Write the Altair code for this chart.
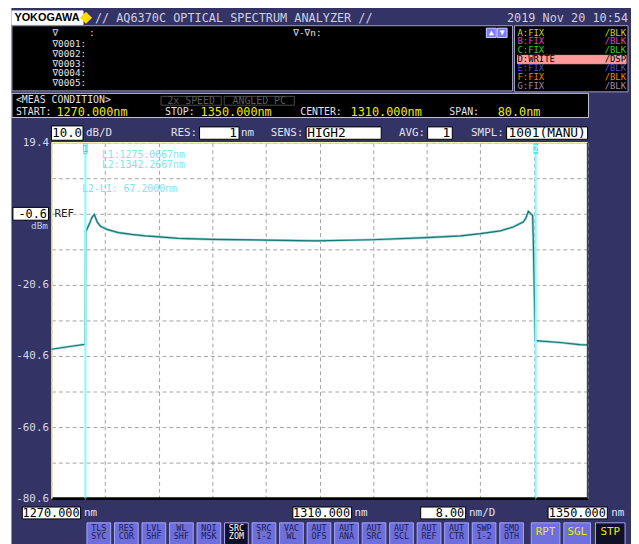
import altair as alt
import pandas as pd

wavelength_nm = [1270.0, 1272.5, 1275.05, 1275.1, 1275.65, 1276.05, 1276.4, 1276.82, 1277.32,
                 1278.3, 1280.0, 1281.98, 1283.95, 1286.16, 1288.86, 1294.0, 1302.1, 1309.5,
                 1317.8, 1325.9, 1331.1, 1334.0, 1337.0, 1338.9, 1340.4, 1340.8, 1341.16,
                 1341.8, 1341.9, 1342.2, 1345.9, 1348.8, 1350.0]
power_dbm = [-38.7, -38.0, -37.3, -5.7, -3.5, -1.6, -0.8, -2.9, -4.1,
             -5.0, -5.9, -6.4, -6.8, -7.1, -7.5, -7.8, -8.0, -8.2,
             -7.9, -7.3, -6.8, -6.2, -5.4, -4.3, -2.9, -1.8, 0.1,
             -1.1, -7.5, -36.3, -36.8, -37.4, -37.5]

marker_nm = [1275.0667, 1342.2667]
marker_label = ["1", "2"]

x_grid_nm = [1270, 1278, 1286, 1294, 1302, 1310, 1318, 1326, 1334, 1342, 1350]
y_grid_dbm = [19.4, 9.4, -0.6, -10.6, -20.6, -30.6, -40.6, -50.6, -60.6, -70.6, -80.6]
y_tick_labels = ["19.4", "-20.6", "-40.6", "-60.6", "-80.6"]

soft_keys = [("TLS", "SYC"), ("RES", "COR"), ("LVL", "SHF"), ("WL", "SHF"), ("NOI", "MSK"),
             ("SRC", "ZOM"), ("SRC", "1-2"), ("VAC", "WL"), ("AUT", "OFS"), ("AUT", "ANA"),
             ("AUT", "SRC"), ("AUT", "SCL"), ("AUT", "REF"), ("AUT", "CTR"), ("SWP", "1-2"),
             ("SMO", "OTH")]
run_keys = ["RPT", "SGL", "STP"]

# ---------------- layout / styles ----------------
W, H = 543, 360
PAD = {"left": 44, "top": 133, "right": 44, "bottom": 43}
OX = 8 + PAD["left"]   # page x of plot origin
OY = 8 + PAD["top"]    # page y of plot origin

NAVY = "#333366"
GRID = "#a4a4a4"
WHT = "#e2e2ea"
HDR = "#d0d0e0"
YEL = "#ecec00"
CY = "#7ee6f0"
KEY = "#6e6edc"
KEYTXT = "#1c1c50"

rects = [
    (0, 11, 0, 560, "#ffffff", "#ffffff"),
    (12, 84, 7.5, 21.5, "#ffffff", "#ffffff"),
    (12, 519, 22.5, 88.5, "#000000", "#a0a0c0"),
    (521, 636, 22.5, 89.5, "#000000", "#a0a0c0"),
    (524, 634, 52.5, 61, "#ff9a9a", "#ff9a9a"),
    (492.5, 502.5, 25, 34.5, "#7b7bff", "#d0d0ff"),
    (503.5, 513.5, 25, 34.5, "#7b7bff", "#d0d0ff"),
    (12, 596, 91, 115.5, "#000000", "#c8c8d8"),
    (163, 224, 94, 103, "#000000", "#4a4a4a"),
    (227, 298, 94, 103, "#000000", "#4a4a4a"),
    (52, 84, 124, 138.5, "#ffffff", "#000000"),
    (202, 242, 125, 137.5, "#ffffff", "#000000"),
    (310, 386, 125, 137.5, "#ffffff", "#000000"),
    (433, 458, 125, 137.5, "#ffffff", "#000000"),
    (513, 595, 125, 137.5, "#ffffff", "#000000"),
    (13, 49, 206.5, 219.5, "#ffffff", "#000000"),
    (22.5, 81.5, 510, 522, "#ffffff", "#000000"),
    (296.5, 356, 510, 522, "#ffffff", "#000000"),
    (426, 471.5, 510, 522, "#ffffff", "#000000"),
    (555, 615, 510, 522, "#ffffff", "#000000"),
]
key_center = []
for i, _ in enumerate(soft_keys):
    left = 88 + 27.87 * i
    fill = "#101028" if i == 5 else KEY
    rects.append((left, left + 24, 526, 550, fill, "#a8a8ff"))
    key_center.append(left + 12)
run_box = [(538, 567), (571, 598), (603, 633)]
for i, (a, b) in enumerate(run_box):
    rects.append((a, b, 526, 550, "#101028" if i == 2 else KEY, "#a8a8ff"))

rect_df = pd.DataFrame(rects, columns=["x1", "x2", "y1", "y2", "fill", "stroke"])
for c in ["x1", "x2"]:
    rect_df[c] = rect_df[c] - OX
for c in ["y1", "y2"]:
    rect_df[c] = rect_df[c] - OY

MS = 9.5   # marker list font size
TS = 9     # trace list font size
left_mono = [
    ("// AQ6370C OPTICAL SPECTRUM ANALYZER //", 96, 15, HDR, 12),
    ("∇", 53, 30, WHT, MS), (":", 90, 30, WHT, MS),
    ("∇0001:", 53, 41.5, WHT, MS), ("∇0002:", 53, 51.3, WHT, MS),
    ("∇0003:", 53, 61.1, WHT, MS), ("∇0004:", 53, 70.9, WHT, MS),
    ("∇0005:", 53, 80.7, WHT, MS),
    ("∇-∇n:", 297, 30, WHT, MS),
    ("A:FIX", 524, 29.5, "#d8d800", TS), ("B:FIX", 524, 38.5, "#e040d0", TS),
    ("C:FIX", 524, 47.5, "#30d030", TS), ("D:WRITE", 524, 56.6, "#000000", TS),
    ("E:FIX", 524, 65.6, "#5050d8", TS), ("F:FIX", 524, 74.6, "#e88800", TS),
    ("G:FIX", 524, 83.6, "#a08aa0", TS),
    ("<MEAS CONDITION>", 16, 98, WHT, 10),
    ("START:", 16, 110.3, WHT, 10), ("1270.000nm", 57, 110, YEL, 12),
    ("STOP:", 167, 110.3, WHT, 10), ("1350.000nm", 203, 110, YEL, 12),
    ("CENTER:", 304, 110.3, WHT, 10), ("1310.000nm", 355, 110, YEL, 12),
    ("SPAN:", 455, 110.3, WHT, 10), ("80.0nm", 504, 110, YEL, 12),
    ("dB/D", 87, 131.5, WHT, 11), ("RES:", 173, 131.5, WHT, 11), ("nm", 244, 131.5, WHT, 11),
    ("SENS:", 274, 131.5, WHT, 11), ("HIGH2", 311, 131, "#000000", 13),
    ("AVG:", 404, 131.5, WHT, 11), ("SMPL:", 477, 131.5, WHT, 11),
    ("1001(MANU)", 515, 131, "#000000", 13),
    ("L1:1275.0667nm", 103, 153.3, CY, 10), ("L2:1342.2667nm", 103, 163.5, CY, 10),
    ("L2-L1:  67.2000nm", 83, 188.3, CY, 10),
    ("REF", 55, 213, "#202020", 11),
    ("nm", 85, 516, WHT, 11), ("nm", 359, 516, WHT, 11), ("nm/D", 475, 516, WHT, 11),
    ("nm", 619, 516, WHT, 11),
]
right_mono = [
    ("2019 Nov 20 10:54", 636, 15, HDR, 12),
    ("/BLK", 634, 29.5, "#d8d800", TS), ("/BLK", 634, 38.5, "#e040d0", TS),
    ("/BLK", 634, 47.5, "#30d030", TS), ("/DSP", 634, 56.6, "#000000", TS),
    ("/BLK", 634, 65.6, "#5050d8", TS), ("/BLK", 634, 74.6, "#e88800", TS),
    ("/BLK", 634, 83.6, "#a08aa0", TS),
    ("10.0", 83, 131.5, "#000000", 12.5),
    ("1", 240, 131, "#000000", 13), ("1", 456, 131, "#000000", 13),
    ("-0.6", 47.5, 213, "#000000", 12),
    ("dBm", 48.5, 225, "#c8c8d8", 9.5),
    ("1270.000", 80.5, 516, "#000000", 12), ("1310.000", 354.5, 516, "#000000", 12),
    ("8.00", 470, 516, "#000000", 12), ("1350.000", 613.5, 516, "#000000", 12),
]
center_mono = [
    ("2x SPEED", 193.5, 98.5, "#5a5a5a", 10), ("ANGLED PC", 262.5, 98.5, "#5a5a5a", 10),
    ("▲", 497.5, 30, "#ffffff", 8), ("▼", 508.5, 30, "#ffffff", 8),
]
for i, (l1, l2) in enumerate(soft_keys):
    col = "#ffffff" if i == 5 else KEYTXT
    center_mono.append((l1, key_center[i], 530.8, col, 8.5))
    center_mono.append((l2, key_center[i], 539.8, col, 8.5))
for (a, b), lab in zip(run_box, run_keys):
    center_mono.append((lab, (a + b) / 2, 535, YEL, 11))
center_sans = [("YOKOGAWA", 47.5, 15, "#000000", 11)]


def text_layer(items, align, font="DejaVu Sans Mono", weight="normal"):
    df = pd.DataFrame(items, columns=["t", "x", "y", "c", "s"])
    df["x"] = df["x"] - OX
    df["y"] = df["y"] - OY
    return alt.Chart(df).mark_text(align=align, baseline="middle", font=font, fontWeight=weight).encode(
        x=alt.X("x:Q", scale=None, axis=None),
        y=alt.Y("y:Q", scale=None, axis=None),
        text="t:N",
        color=alt.Color("c:N", scale=None),
        size=alt.Size("s:Q", scale=None),
    )


label_expr = ("indexof([" + ",".join(y_tick_labels) + "], datum.value) >= 0 ? ["
              + ",".join("'" + s + "'" for s in y_tick_labels) + "][indexof(["
              + ",".join(y_tick_labels) + "], datum.value)] : ''")


def xq(field):
    return alt.X(f"{field}:Q", scale=alt.Scale(domain=[1270, 1350], nice=False, zero=False),
                 axis=alt.Axis(values=x_grid_nm, grid=True, labels=False, ticks=False, title=None,
                               domainColor="#000000", domainWidth=3, gridColor=GRID,
                               gridDash=[4, 3], gridWidth=1))


def yq(field):
    return alt.Y(f"{field}:Q", scale=alt.Scale(domain=[-80.6, 19.4], nice=False, zero=False),
                 axis=alt.Axis(values=[float(v) for v in y_grid_dbm], grid=True, ticks=False, title=None,
                               labelExpr=label_expr, labelColor="#d8d8e4", labelFont="DejaVu Sans Mono",
                               labelFontSize=11, labelPadding=3, labelOverlap=False,
                               domainColor="#eee8a0", domainWidth=1.5, gridColor=GRID,
                               gridDash=[4, 3], gridWidth=1))


trace_df = pd.DataFrame({"wl": wavelength_nm, "dbm": power_dbm})
marker_df = pd.DataFrame({"nm": marker_nm, "id": marker_label,
                          "ff": ["#ffffff", "#60eef8"], "tc": ["#30c8d8", "#ffffff"]})
one = pd.DataFrame({"a": [0]})

rect_layer = alt.Chart(rect_df).mark_rect(strokeWidth=1).encode(
    x=alt.X("x1:Q", scale=None, axis=None), x2="x2:Q",
    y=alt.Y("y1:Q", scale=None, axis=None), y2="y2:Q",
    fill=alt.Fill("fill:N", scale=None), stroke=alt.Stroke("stroke:N", scale=None))

halo = alt.Chart(trace_df).mark_line(color="#a6d2d2", strokeWidth=2.6).encode(x=xq("wl"), y=yq("dbm"))
trace = alt.Chart(trace_df).mark_line(color="#127878", strokeWidth=1.2).encode(x=xq("wl"), y=yq("dbm"))

mk_rules = alt.Chart(marker_df).mark_rule(color="#80ffff", strokeWidth=2).encode(
    x=xq("nm"), y=alt.value(11), y2=alt.value(H))
red_ticks = alt.Chart(marker_df).mark_rule(color="#d02020", strokeWidth=1).encode(
    x=xq("nm"), y=alt.value(H - 1), y2=alt.value(H + 2))
top_border = alt.Chart(one).mark_rule(color="#f4f0b8", strokeWidth=1.5).encode(
    x=alt.value(0), x2=alt.value(W), y=alt.value(0))
right_border = alt.Chart(one).mark_rule(color="#404040", strokeWidth=1.5).encode(
    x=alt.value(W), y=alt.value(0), y2=alt.value(H))
flags = alt.Chart(marker_df).mark_point(shape="M-0.35,-1H0.35V1H-0.35Z", size=100, filled=True,
                                        opacity=1, strokeWidth=1).encode(
    x=xq("nm"), y=alt.value(6), fill=alt.Fill("ff:N", scale=None), stroke=alt.value("#40e0f0"))
flag_txt = alt.Chart(marker_df).mark_text(font="DejaVu Sans Mono", fontSize=9, baseline="middle").encode(
    x=xq("nm"), y=alt.value(6.5), text="id:N", color=alt.Color("tc:N", scale=None))
diamond = alt.Chart(one).mark_point(shape="M0,-1L1,0L0,1L-1,0Z", size=150, filled=True, opacity=1,
                                    color="#ffdd00").encode(x=alt.value(87 - OX), y=alt.value(14.5 - OY))

chart = alt.layer(
    rect_layer, halo, trace, mk_rules, red_ticks, top_border, right_border, flags, flag_txt,
    text_layer(left_mono, "left"), text_layer(right_mono, "right"), text_layer(center_mono, "center"),
    text_layer(center_sans, "center", font="Liberation Sans", weight="bold"), diamond,
).properties(
    width=W, height=H, padding=PAD, autosize=alt.AutoSizeParams(type="none")
).configure(background=NAVY).configure_view(fill="#ffffff", stroke="transparent")

chart.save("out.html", embed_options={"renderer": "svg", "actions": False})
